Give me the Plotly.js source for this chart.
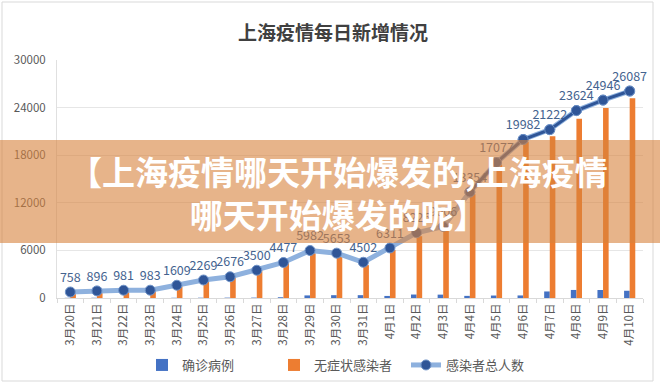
<!DOCTYPE html>
<html>
<head>
<meta charset="utf-8">
<script src="https://cdn.plot.ly/plotly-3.0.1.min.js"></script>
<style>
  html, body { margin: 0; padding: 0; background: #ffffff; }
  #chart { width: 660px; height: 385px; }
</style>
</head>
<body>
<div id="chart"></div>
<script>
// ---- data ----
const categories = ["3月20日","3月21日","3月22日","3月23日","3月24日","3月25日","3月26日","3月27日","3月28日","3月29日","3月30日","3月31日","4月1日","4月2日","4月3日","4月4日","4月5日","4月6日","4月7日","4月8日","4月9日","4月10日"];
const confirmed = [24,31,4,4,29,38,45,50,96,326,355,358,260,438,425,268,311,322,824,1015,1006,914];
const asymptomatic = [734,865,977,979,1580,2231,2631,3450,4381,5656,5298,4144,6051,7788,8581,13086,16766,19660,20398,22609,23940,25173];
const totals = [758,896,981,983,1609,2269,2676,3500,4477,5982,5653,4502,6311,8226,9006,13354,17077,19982,21222,23624,24946,26087];
const seriesNames = ["确诊病例","无症状感染者","感染者总人数"];
const chartTitle = "上海疫情每日新增情况";
const bannerText = "【上海疫情哪天开始爆发的,上海疫情<br>哪天开始爆发的呢】";
const yTicks = [0,6000,12000,18000,24000,30000];

// ---- layout geometry (pixels) ----
const W = 660, H = 385;
const L = 57, R = 17, T = 60, B = 87;
const pw = W - L - R, ph = H - T - B;
const px = p => (p - L) / pw;          // pixel x -> paper x
const py = p => (H - B - p) / ph;      // pixel y -> paper y

const FONT = '"Noto Sans CJK SC", "Noto Sans", sans-serif';
const darkStart = 15;

const markerStyle = { color: '#2F5597', size: 10, line: { color: '#6F93C8', width: 1 } };

const traces = [
  {
    type: 'bar', name: seriesNames[0], x: categories, y: confirmed,
    marker: { color: '#4472C4' }, hoverinfo: 'x+y'
  },
  {
    type: 'bar', name: seriesNames[1], x: categories, y: asymptomatic,
    marker: { color: '#ED7D31' }, hoverinfo: 'x+y'
  },
  {
    type: 'scatter', mode: 'lines+markers+text', name: seriesNames[2],
    x: categories, y: totals,
    text: totals.map(String), textposition: 'top center',
    textfont: { family: FONT, size: 12.5, color: '#44638F' },
    line: { color: '#8EB1DE', width: 5 },
    marker: markerStyle, cliponaxis: false
  },
  {
    type: 'scatter', mode: 'lines+markers', showlegend: false,
    x: categories, y: totals.map((v, i) => i >= darkStart ? v : null),
    line: { color: '#2F5597', width: 3 },
    marker: markerStyle, hoverinfo: 'skip', cliponaxis: false
  }
];

const layout = {
  width: W, height: H,
  margin: { l: L, r: R, t: T, b: B, pad: 0, autoexpand: false },
  paper_bgcolor: '#ffffff', plot_bgcolor: '#ffffff',
  font: { family: FONT, color: '#595959', size: 11 },
  title: {
    text: chartTitle, xref: 'container', yref: 'container',
    x: 333 / W, y: 1 - 33 / H, xanchor: 'center', yanchor: 'middle',
    font: { family: FONT, size: 19, color: '#404040', weight: 700 }
  },
  barmode: 'group', bargap: 0.58, bargroupgap: 0,
  xaxis: {
    type: 'category', tickangle: -90, automargin: false,
    range: [-0.5, categories.length - 0.5], autorange: false,
    showline: true, linecolor: '#d9d9d9', linewidth: 1,
    ticks: 'outside', tickson: 'boundaries', ticklen: 4, tickcolor: '#d9d9d9',
    showgrid: false, zeroline: false,
    tickfont: { family: FONT, size: 11.5, color: '#595959' }
  },
  yaxis: {
    range: [0, 30000], tickvals: yTicks, ticktext: yTicks.map(String), automargin: false,
    showgrid: true, gridcolor: '#e6e6e6', gridwidth: 1,
    showline: true, linecolor: '#e0e0e0', zeroline: false, ticks: '',
    ticklabelstandoff: 8,
    tickfont: { family: FONT, size: 11.5, color: '#595959' }
  },
  legend: {
    orientation: 'h', x: px(142), xanchor: 'left', y: py(365), yanchor: 'middle',
    font: { family: FONT, size: 13, color: '#595959' },
    entrywidth: 87, entrywidthmode: 'pixels',
    bgcolor: 'rgba(0,0,0,0)', traceorder: 'normal'
  },
  shapes: [
    {
      type: 'rect', xref: 'paper', yref: 'paper', layer: 'below',
      x0: px(2), x1: px(653), y0: py(381), y1: py(2),
      line: { color: '#d9d9d9', width: 1 }, fillcolor: 'rgba(0,0,0,0)'
    },
    {
      type: 'rect', xref: 'paper', yref: 'paper', layer: 'above',
      x0: px(0), x1: px(660), y0: py(243), y1: py(140),
      line: { width: 0 }, fillcolor: 'rgba(215,130,60,0.6)'
    }
  ],
  annotations: [
    {
      xref: 'paper', yref: 'paper', x: px(338), y: py(192),
      xanchor: 'center', yanchor: 'middle', showarrow: false,
      text: '<b>' + bannerText + '</b>',
      font: { family: FONT, size: 33, color: '#ffffff', weight: 700 }
    }
  ]
};

Plotly.newPlot('chart', traces, layout, { displayModeBar: false, staticPlot: true });
</script>
</body>
</html>
